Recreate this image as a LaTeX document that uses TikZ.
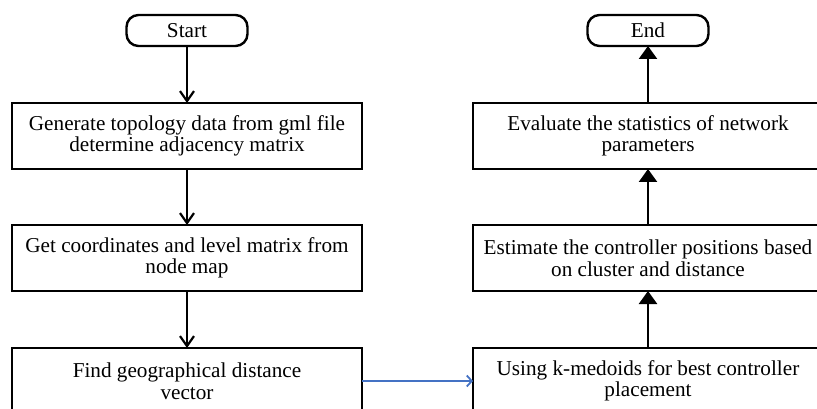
\documentclass[tikz,border=0pt]{standalone}
\usepackage{fontspec}
\setmainfont{Liberation Serif}
\usepackage{tikz}
\usetikzlibrary{positioning,arrows.meta}

\begin{document}
\begin{tikzpicture}[x=1pt, y=1pt, node distance=56pt,
    every node/.style = {font=\fontsize{21.2}{21.5}\selectfont, outer sep=0pt},
    terminal/.style = {shape=rectangle, rounded corners=12pt, draw, line width=2.4pt,
      minimum width=121pt, minimum height=31pt, inner sep=0pt},
    process/.style = {shape=rectangle, draw, line width=2.4pt, align=center,
      minimum width=350pt, minimum height=66pt, inner sep=0pt},
    down/.style = {-{Straight Barb[length=10pt, width=14pt, line width=2.2pt]}, line width=2.4pt},
    up/.style = {-{Triangle[length=13pt, width=18pt]}, line width=2.4pt},
    link/.style = {-{Straight Barb[length=5pt, width=11pt, line width=1.8pt]}, line width=2pt,
      draw={rgb,255:red,68;green,114;blue,196}}]
    \useasboundingbox (0,0) rectangle (817,-409);
    \clip (0,0) rectangle (817,-409);
    % left column
    \node[terminal] (start) at (187,-30.5) {Start};
    \node[process, below=57pt of start] (topology) {Generate topology data from gml file\\determine adjacency matrix};
    \node[process, below=56pt of topology] (coords) {Get coordinates and level matrix from\\node map};
    \node[process, below=57pt of coords] (distance) {Find geographical distance\\vector};
    % right column
    \node[process, right=111pt of distance] (kmedoids) {Using k-medoids for best controller\\placement};
    \node[process, above=57pt of kmedoids] (estimate) {Estimate the controller positions based\\on cluster and distance};
    \node[process, above=56pt of estimate] (evaluate) {Evaluate the statistics of network\\parameters};
    \node[terminal, above=57pt of evaluate] (end) {End};
    \draw[down] (start) -- (topology);
    \draw[down] (topology) -- (coords);
    \draw[down] (coords) -- (distance);
    \draw[link] (distance) -- (kmedoids);
    \draw[up] (kmedoids) -- (estimate);
    \draw[up] (estimate) -- (evaluate);
    \draw[up] (evaluate) -- (end);
\end{tikzpicture}
\end{document}
